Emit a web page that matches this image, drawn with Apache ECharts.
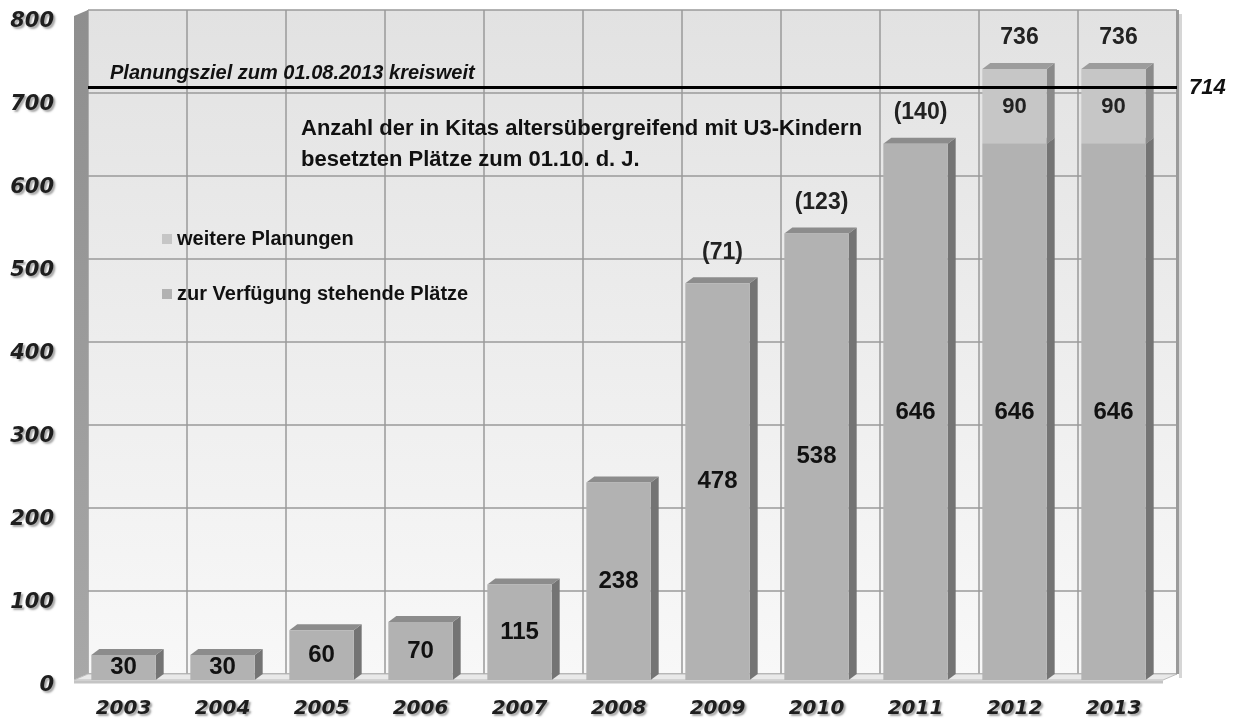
<!DOCTYPE html>
<html>
<head>
<meta charset="utf-8">
<script src="https://cdn.jsdelivr.net/npm/echarts@6/dist/echarts.min.js"></script>
<style>
html,body{margin:0;padding:0;background:#fff;}
#chart{width:1237px;height:724px;}
</style>
</head>
<body>
<div id="chart"></div>
<script>
const categories = ['2003','2004','2005','2006','2007','2008','2009','2010','2011','2012','2013'];
const available = [30, 30, 60, 70, 115, 238, 478, 538, 646, 646, 646];
const planned = [null, null, null, null, null, null, null, null, null, 90, 90];
const topLabels = ['', '', '', '', '', '', '(71)', '(123)', '(140)', '736', '736'];
const target = 714;
const targetText = 'Planungsziel zum 01.08.2013 kreisweit';
const noteLines = ['Anzahl der in Kitas altersübergreifend mit U3-Kindern', 'besetzten Plätze zum 01.10. d. J.'];
const yMin = 0, yMax = 800, yStep = 100;

const DX = 8, DY = -6;     // bar depth
const WX = 14, WY = -6;    // wall depth
const BAR_FRAC = 0.65;

const totals = available.map((v, i) => v + (planned[i] || 0));

const faceData = [];
available.forEach((v, i) => faceData.push([i, 0, v, 0]));
planned.forEach((v, i) => { if (v) faceData.push([i, available[i], available[i] + v, 1]); });

const axisFont = {fontFamily: 'DejaVu Sans', fontWeight: 'bold', fontStyle: 'italic', color: '#1e1e1e',
  textShadowColor: 'rgba(0,0,0,0.35)', textShadowBlur: 2, textShadowOffsetX: 2, textShadowOffsetY: 2};

const chart = echarts.init(document.getElementById('chart'));
chart.setOption({
  animation: false,
  backgroundColor: '#ffffff',
  grid: [
    {left: 74, top: 16, width: 1089, height: 664},
    {left: 88, top: 10, width: 1089, height: 664, show: true, borderWidth: 0,
     backgroundColor: new echarts.graphic.LinearGradient(0, 0, 0, 1, [
       {offset: 0, color: '#e2e2e2'}, {offset: 1, color: '#f8f8f8'}])}
  ],
  legend: {
    data: ['weitere Planungen', 'zur Verfügung stehende Plätze'],
    orient: 'vertical', left: 157, top: 224, itemGap: 35,
    icon: 'rect', itemWidth: 10, itemHeight: 10,
    textStyle: {fontFamily: 'Liberation Sans', fontWeight: 'bold', fontSize: 20, color: '#111'}
  },
  xAxis: [
    {type: 'category', data: categories, gridIndex: 0,
     axisLine: {show: false}, axisTick: {show: false}, splitLine: {show: false},
     axisLabel: Object.assign({fontSize: 20, margin: 19}, axisFont)},
    {type: 'category', data: categories, gridIndex: 1,
     axisLine: {show: false}, axisTick: {show: false}, axisLabel: {show: false},
     splitLine: {show: true, interval: 0, lineStyle: {color: '#9a9a9a', width: 1.5}}}
  ],
  yAxis: [
    {type: 'value', gridIndex: 0, min: yMin, max: yMax, interval: yStep,
     axisLine: {show: false}, axisTick: {show: false}, splitLine: {show: false},
     axisLabel: Object.assign({fontSize: 21, margin: 20, verticalAlign: 'top', lineHeight: 12}, axisFont)},
    {type: 'value', gridIndex: 1, min: yMin, max: yMax, interval: yStep,
     axisLine: {show: false}, axisTick: {show: false}, axisLabel: {show: false},
     splitLine: {show: true, lineStyle: {color: '#9a9a9a', width: 1.5}}}
  ],
  series: [
    {
      name: 'decor', type: 'custom', xAxisIndex: 0, yAxisIndex: 0, z: 1, silent: true,
      data: [[0]],
      renderItem: function (params, api) {
        const band = api.size([1, 0])[0];
        const pb = api.coord([0, yMin]);
        const pt = api.coord([0, yMax]);
        const pr = api.coord([categories.length - 1, yMin]);
        const xl = pb[0] - band / 2, xr = pr[0] + band / 2;
        const y0 = pb[1], y1 = pt[1];
        return {type: 'group', children: [
          {type: 'polygon', shape: {points: [[xl, y0], [xl, y1], [xl + WX, y1 + WY], [xl + WX, y0 + WY]]},
           style: {fill: new echarts.graphic.LinearGradient(0, 0, 0, 1, [
             {offset: 0, color: '#8e8e8e'}, {offset: 1, color: '#a8a8a8'}]), stroke: null}},
          {type: 'polygon', shape: {points: [[xl, y0], [xr, y0], [xr + WX, y0 + WY], [xl + WX, y0 + WY]]},
           style: {fill: '#e9e9e9', stroke: '#bdbdbd', lineWidth: 1}},
          {type: 'line', shape: {x1: xl, y1: y0 + 2, x2: xr, y2: y0 + 2},
           style: {stroke: '#c4c4c4', lineWidth: 3}},
          {type: 'rect', shape: {x: xr + WX - 1, y: y1 + WY, width: 3, height: y0 - y1},
           style: {fill: '#9a9a9a'}},
          {type: 'rect', shape: {x: xr + WX + 2, y: y1 + WY + 4, width: 3, height: y0 - y1},
           style: {fill: '#d6d6d6'}}
        ]};
      }
    },
    {
      name: '3d', type: 'custom', xAxisIndex: 0, yAxisIndex: 0, z: 2, silent: true,
      data: faceData,
      renderItem: function (params, api) {
        const idx = api.value(0), lo = api.value(1), hi = api.value(2), kind = api.value(3);
        const band = api.size([1, 0])[0];
        const w = band * BAR_FRAC;
        const pLo = api.coord([idx, lo]), pHi = api.coord([idx, hi]);
        const x0 = pLo[0] - w / 2, x1 = pLo[0] + w / 2;
        const side = kind ? '#8a8a8a' : '#747474';
        const top = kind ? '#9c9c9c' : '#8c8c8c';
        return {type: 'group', children: [
          {type: 'polygon', shape: {points: [[x1, pHi[1]], [x1 + DX, pHi[1] + DY], [x1 + DX, pLo[1] + DY], [x1, pLo[1]]]},
           style: {fill: side}},
          {type: 'polygon', shape: {points: [[x0, pHi[1]], [x0 + DX, pHi[1] + DY], [x1 + DX, pHi[1] + DY], [x1, pHi[1]]]},
           style: {fill: top}}
        ]};
      }
    },
    {
      name: 'zur Verfügung stehende Plätze', type: 'bar', stack: 'a', xAxisIndex: 0, yAxisIndex: 0,
      barWidth: (BAR_FRAC * 100) + '%', z: 3, data: available,
      itemStyle: {color: '#b2b2b2'},
      label: {show: true, position: 'inside', fontFamily: 'Liberation Sans', fontWeight: 'bold', fontSize: 24, color: '#111'}
    },
    {
      name: 'weitere Planungen', type: 'bar', stack: 'a', xAxisIndex: 0, yAxisIndex: 0,
      barWidth: (BAR_FRAC * 100) + '%', z: 3, data: planned,
      itemStyle: {color: '#c6c6c6'},
      label: {show: true, position: 'inside', fontFamily: 'Liberation Sans', fontWeight: 'bold', fontSize: 22, color: '#222'}
    },
    {
      name: 'toplabels', type: 'custom', xAxisIndex: 0, yAxisIndex: 0, z: 6, silent: true,
      data: totals.map((t, i) => [i, t]),
      renderItem: function (params, api) {
        const i = api.value(0);
        const p = api.coord([i, api.value(1)]);
        return {type: 'text', style: {text: topLabels[i], x: p[0] + 5, y: p[1] - 31,
          align: 'center', verticalAlign: 'middle',
          font: 'bold 23px "Liberation Sans"', fill: '#222'}};
      }
    },
    {
      name: 'target', type: 'custom', xAxisIndex: 0, yAxisIndex: 0, z: 8, silent: true,
      data: [[0, target]],
      renderItem: function (params, api) {
        const band = api.size([1, 0])[0];
        const pl = api.coord([0, api.value(1)]);
        const pr = api.coord([categories.length - 1, api.value(1)]);
        const xl = pl[0] - band / 2 + WX, xr = pr[0] + band / 2 + WX;
        const y = pl[1];
        return {type: 'group', children: [
          {type: 'line', shape: {x1: xl, y1: y, x2: xr, y2: y}, style: {stroke: '#000', lineWidth: 3}},
          {type: 'text', style: {text: String(target), x: xr + 12, y: y + 1, align: 'left', verticalAlign: 'middle',
            font: 'italic bold 22px "Liberation Sans"', fill: '#111'}},
          {type: 'text', style: {text: targetText, x: xl + 22, y: y - 14, align: 'left', verticalAlign: 'middle',
            font: 'italic bold 20px "Liberation Sans"', fill: '#111'}}
        ]};
      }
    }
  ],
  graphic: [
    {type: 'text', left: 301, top: 113, z: 10,
     style: {text: noteLines.join('\n'), font: 'bold 22px "Liberation Sans"', fill: '#111', lineHeight: 31}}
  ]
});
</script>
</body>
</html>
